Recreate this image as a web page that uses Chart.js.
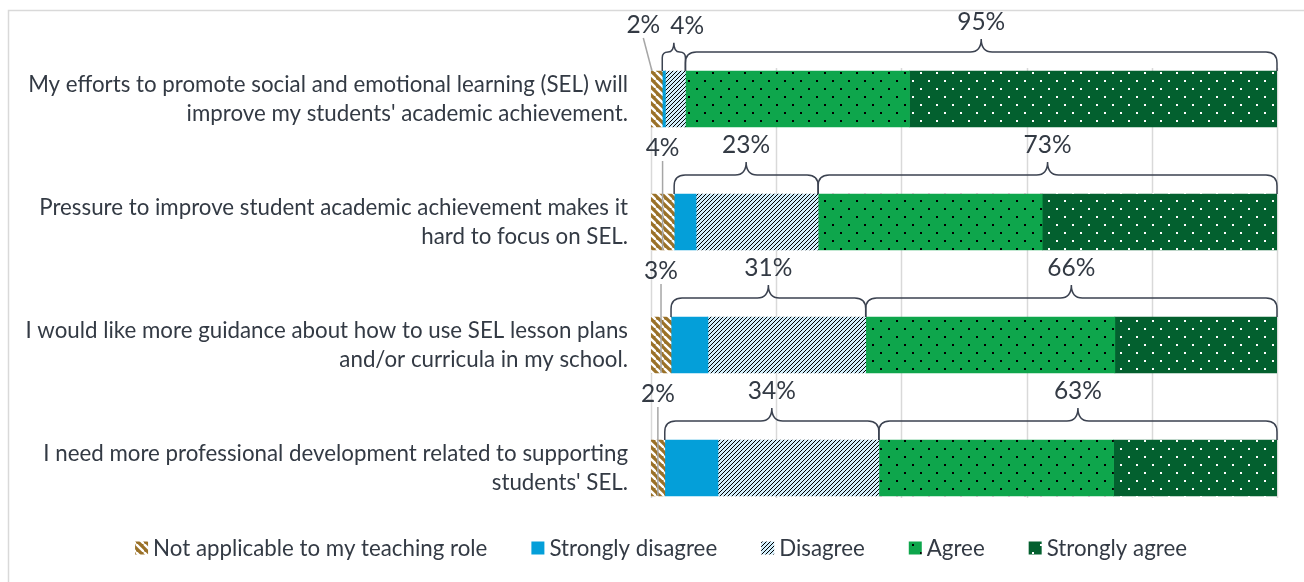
<!DOCTYPE html>
<html>
<head>
<meta charset="utf-8">
<script src="https://cdn.jsdelivr.net/npm/chart.js@4.4.1/dist/chart.umd.min.js"></script>
<style>
  html, body { margin: 0; padding: 0; background: #fff; }
  #wrap { width: 1304px; height: 582px; position: relative; }
</style>
</head>
<body>
<div id="wrap"><canvas id="sel_chart"></canvas></div>

<script>
// statements (categories), two lines each
const statements = [
  ["My efforts to promote social and emotional learning (SEL) will", "improve my students' academic achievement."],
  ["Pressure to improve student academic achievement makes it", "hard to focus on SEL."],
  ["I would like more guidance about how to use SEL lesson plans", "and/or curricula in my school."],
  ["I need more professional development related to supporting", "students' SEL."]
];

// percentages
const notApplicable    = [1.8, 3.7, 3.2, 2.2];
const stronglyDisagree = [0.5, 3.5, 5.9, 8.5];
const disagree         = [3.2, 19.5, 25.2, 25.7];
const agree            = [35.8, 35.8, 39.8, 37.5];
const stronglyAgree    = [58.7, 37.5, 25.9, 26.1];

// labels printed above the bars
const naLabels       = ['2%', '4%', '3%', '2%'];
const disagreeLabels = ['4%', '23%', '31%', '34%'];
const agreeLabels    = ['95%', '73%', '66%', '63%'];

const seriesNames = ['Not applicable to my teaching role', 'Strongly disagree', 'Disagree', 'Agree', 'Strongly agree'];
const gridTicks = [0, 20, 40, 60, 80, 100];

const textColor = '#333a44';
const fontFamily = 'Lato, "Open Sans", sans-serif';

// size the font so the longest statement line is as wide as in the picture
var measureCtx = document.createElement('canvas').getContext('2d');
measureCtx.font = '20px ' + fontFamily;
var labelSize = Math.round(20 * 601 / measureCtx.measureText(statements[0][0]).width * 10) / 10;
var pctSize = Math.round(labelSize * 1.1 * 10) / 10;

var makePattern = function(size, bg, draw) {
  const c = document.createElement('canvas');
  c.width = size; c.height = size;
  const x = c.getContext('2d');
  x.fillStyle = bg;
  x.fillRect(0, 0, size, size);
  draw(x, size);
  return x.createPattern(c, 'repeat');
}

var wideStripes = function(color, width) {
  return function(x, s) {
    x.strokeStyle = color;
    x.lineWidth = width;
    for (let k = -s; k <= s; k += s) {
      x.beginPath();
      x.moveTo(k, 0);
      x.lineTo(k + s, s);
      x.stroke();
    }
  }
}

// crisp one-pixel upward diagonal, like the office pattern
var pixelDiagonal = function(color) {
  return function(x, s) {
    x.fillStyle = color;
    for (let i = 0; i < s; i++) x.fillRect(i, s - 1 - i, 1, 1);
  }
}

var dots = function(color) {
  return function(x, s) {
    x.fillStyle = color;
    x.fillRect(0, 0, 2, 2);
    x.fillRect(s / 2, s / 2, 2, 2);
  }
}

const naFill    = makePattern(8, '#9a7128', wideStripes('#ffffff', 2.4));
const sdFill    = '#049fd9';
const dFill     = makePattern(4, '#d2eefb', pixelDiagonal('#000000'));
const agreeFill = makePattern(16, '#0ea64c', dots('#000000'));
const saFill    = makePattern(16, '#03602f', dots('#ffffff'));
const fills = [naFill, sdFill, dFill, agreeFill, saFill];

var drawBrace = function(ctx, x0, x1, yb, yh) {
  const xm = (x0 + x1) / 2;
  const r = Math.min(11, (x1 - x0) / 4);
  const yp = yh - Math.min(13, (x1 - x0) / 2.5);
  ctx.beginPath();
  ctx.moveTo(x0, yb);
  ctx.lineTo(x0, yh + r);
  ctx.quadraticCurveTo(x0, yh, x0 + r, yh);
  ctx.lineTo(xm - r, yh);
  ctx.quadraticCurveTo(xm, yh, xm, yp);
  ctx.quadraticCurveTo(xm, yh, xm + r, yh);
  ctx.lineTo(x1 - r, yh);
  ctx.quadraticCurveTo(x1, yh, x1, yh + r);
  ctx.lineTo(x1, yb);
  ctx.stroke();
  return yp;
}

// outer light border of the picture
const frame = {
  id: 'frame',
  beforeDraw(chart) {
    const ctx = chart.ctx;
    ctx.save();
    ctx.strokeStyle = '#d9d9d9';
    ctx.lineWidth = 1.5;
    ctx.strokeRect(8.5, 10.5, chart.width + 50, chart.height + 50);
    ctx.restore();
  }
};

// vertical gridlines, only over the band of bars
const gridBand = {
  id: 'gridBand',
  beforeDatasetsDraw(chart) {
    const ctx = chart.ctx;
    const xs = chart.scales.x;
    const bars = chart.getDatasetMeta(0).data;
    const first = bars[0], last = bars[bars.length - 1];
    const y0 = first.y - first.height / 2 - 3;
    const y1 = last.y + last.height / 2 + 2;
    ctx.save();
    ctx.strokeStyle = '#d9d9d9';
    ctx.lineWidth = 1.5;
    gridTicks.forEach(v => {
      const px = Math.round(xs.getPixelForValue(v)) + 0.5;
      ctx.beginPath();
      ctx.moveTo(px, y0);
      ctx.lineTo(px, y1);
      ctx.stroke();
    });
    ctx.restore();
  }
};

// curly braces and percent labels over each bar
const braces = {
  id: 'braces',
  afterDatasetsDraw(chart) {
    const ctx = chart.ctx;
    const metas = chart.data.datasets.map((d, k) => chart.getDatasetMeta(k));
    ctx.save();
    ctx.font = pctSize + 'px ' + fontFamily;
    ctx.textAlign = 'center';
    ctx.textBaseline = 'middle';
    statements.forEach((s, i) => {
      const na = metas[0].data[i], sd = metas[1].data[i], d = metas[2].data[i];
      const a = metas[3].data[i], sa = metas[4].data[i];
      const top = na.y - na.height / 2, bottom = na.y + na.height / 2;
      const yh = top - 19;

      ctx.strokeStyle = '#3b4250';
      ctx.lineWidth = 1.5;
      const ypD = drawBrace(ctx, sd.base, d.x, top, yh);
      const ypA = drawBrace(ctx, a.base, sa.x, top, yh);

      const naMid = (na.base + na.x) / 2;
      let nx = naMid;
      let dx = (sd.base + d.x) / 2;
      const wN = ctx.measureText(naLabels[i]).width;
      const wD = ctx.measureText(disagreeLabels[i]).width;
      const overlap = (nx + wN / 2 + 10) - (dx - wD / 2);
      if (overlap > 0) { nx -= overlap / 2; dx += overlap / 2; }

      const ylab = yh - 13 - 16;
      ctx.fillStyle = textColor;
      ctx.fillText(disagreeLabels[i], dx, ypD - 17);
      ctx.fillText(agreeLabels[i], (a.base + sa.x) / 2, ypA - 17);
      ctx.fillText(naLabels[i], nx, ylab + 2);

      // leader line for the small "not applicable" share
      ctx.strokeStyle = '#a6a6a6';
      ctx.lineWidth = 1.5;
      ctx.beginPath();
      ctx.moveTo(nx, ylab + 15);
      if (nx === naMid) ctx.lineTo(naMid, bottom);
      else ctx.lineTo(na.base + 1, top);
      ctx.stroke();
    });
    ctx.restore();
  }
};

// legend row under the chart
const legendRow = {
  id: 'legendRow',
  afterDraw(chart) {
    const ctx = chart.ctx;
    const box = 13, gapText = 5, gapItem = 44, yc = 548;
    ctx.save();
    ctx.font = labelSize + 'px ' + fontFamily;
    ctx.textBaseline = 'middle';
    ctx.textAlign = 'left';
    const widths = seriesNames.map(n => box + gapText + ctx.measureText(n).width);
    const total = widths.reduce((p, w) => p + w, 0) + gapItem * (widths.length - 1);
    let x = chart.width / 2 - total / 2 + 9;
    chart.data.datasets.forEach((ds, k) => {
      ctx.fillStyle = ds.backgroundColor;
      ctx.fillRect(x, yc - box / 2, box, box);
      ctx.fillStyle = textColor;
      ctx.fillText(ds.label, x + box + gapText, yc + 1);
      x += widths[k] + gapItem;
    });
    ctx.restore();
  }
};

var renderChart = function() {
  const values = [notApplicable, stronglyDisagree, disagree, agree, stronglyAgree];
  const ctx = document.getElementById('sel_chart');

  new Chart(ctx, {
    type: 'bar',
    data: {
      labels: statements,
      datasets: seriesNames.map((name, k) => ({
        label: name,
        data: values[k],
        backgroundColor: fills[k],
        borderWidth: 0,
        barThickness: 56
      }))
    },
    options: {
      indexAxis: 'y',
      responsive: true,
      maintainAspectRatio: false,
      animation: false,
      layout: {
        padding: { top: 37.5, right: 27, bottom: 52.5, left: 0 }
      },
      plugins: {
        legend: { display: false },
        tooltip: { enabled: false }
      },
      scales: {
        x: {
          display: false,
          stacked: true,
          min: 0,
          max: 100
        },
        y: {
          stacked: true,
          grid: { display: false, drawTicks: false },
          border: { display: false },
          afterFit: function(scale) {
            scale.width = 651;
            // the labels sit inside their rows, no extra room needed
            scale.paddingTop = 0;
            scale.paddingBottom = 0;
          },
          ticks: {
            padding: 23,
            color: textColor,
            font: { family: fontFamily, size: labelSize, lineHeight: 29 / labelSize }
          }
        }
      }
    },
    plugins: [frame, gridBand, braces, legendRow]
  });
}

renderChart();
</script>
</body>
</html>
